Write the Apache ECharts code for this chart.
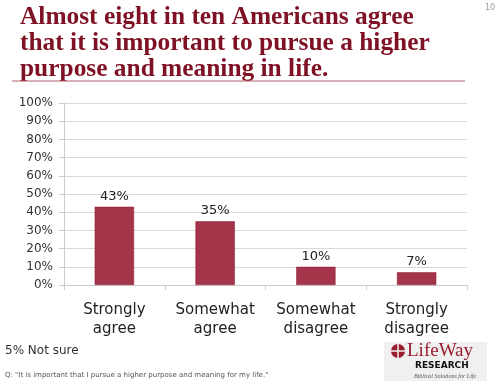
<!DOCTYPE html>
<html><head><meta charset="utf-8">
<script src="https://cdn.jsdelivr.net/npm/echarts@6/dist/echarts.min.js"></script>
<style>html,body{margin:0;padding:0;background:#fff}#c{width:500px;height:385px}</style>
</head><body><div id="c"></div>
<script>
const categories = ['Strongly\nagree', 'Somewhat\nagree', 'Somewhat\ndisagree', 'Strongly\ndisagree'];
const values = [43, 35, 10, 7];
const yTicks = [0, 10, 20, 30, 40, 50, 60, 70, 80, 90, 100];
const titleText = 'Almost eight in ten Americans agree\nthat it is important to pursue a higher\npurpose and meaning in life.';
const noteText = '5% Not sure';
const questionText = 'Q: "It is important that I pursue a higher purpose and meaning for my life."';

const chart = echarts.init(document.getElementById('c'), null, {renderer: 'canvas'});
chart.setOption({
  animation: false,
  backgroundColor: '#fff',
  grid: {left: 64, right: 33, top: 103, bottom: 100, containLabel: false},
  xAxis: {
    type: 'category', data: categories,
    axisLine: {lineStyle: {color: '#cccccc'}},
    axisTick: {show: true, length: 5, lineStyle: {color: '#cccccc'}},
    axisLabel: {interval: 0, color: '#222', fontFamily: 'DejaVu Sans', fontSize: 15, lineHeight: 19, margin: 16}
  },
  yAxis: {
    type: 'value', min: 0, max: 100, interval: 10,
    axisLine: {show: true, lineStyle: {color: '#cccccc'}},
    axisTick: {show: true, length: 5, lineStyle: {color: '#cccccc'}},
    splitLine: {lineStyle: {color: '#d9d9d9'}},
    axisLabel: {color: '#333', fontFamily: 'DejaVu Sans', fontSize: 12, margin: 11,
      formatter: v => yTicks.includes(v) ? v + '%' : ''}
  },
  series: [{
    type: 'bar', data: values, barWidth: '39%',
    itemStyle: {color: '#A3344A', borderColor: '#8f1a30', borderWidth: 0.5},
    label: {show: true, position: 'top', formatter: '{c}%', color: '#222',
      fontFamily: 'DejaVu Sans', fontSize: 13, distance: 4}
  }],
  graphic: [
    {type: 'text', left: 20, top: 4, style: {text: titleText, fill: '#7f1124',
      font: 'bold 25.4px "Liberation Serif"', lineHeight: 26.3}},
    {type: 'line', shape: {x1: 12, y1: 81, x2: 465, y2: 81}, style: {stroke: '#b3606e', lineWidth: 1}},
    {type: 'text', left: 485, top: 4, style: {text: '10', fill: '#999', font: '8px "DejaVu Sans"'}},
    {type: 'text', left: 5, top: 345, style: {text: noteText, fill: '#333', font: '12px "DejaVu Sans"'}},
    {type: 'text', left: 5, top: 372, style: {text: questionText, fill: '#555', font: '7px "DejaVu Sans"'}},
    {type: 'rect', shape: {x: 384, y: 342, width: 103, height: 39}, style: {fill: '#f0f0f0'}},
    {type: 'circle', shape: {cx: 398, cy: 351, r: 7}, style: {fill: '#9b1c2e'}},
    {type: 'line', shape: {x1: 391, y1: 351, x2: 405, y2: 351}, style: {stroke: '#f0f0f0', lineWidth: 1.5}},
    {type: 'line', shape: {x1: 398, y1: 344, x2: 398, y2: 358}, style: {stroke: '#f0f0f0', lineWidth: 1.5}},
    {type: 'text', left: 407, top: 342, style: {text: 'LifeWay', fill: '#9b1c2e', font: '19px "Liberation Serif"'}},
    {type: 'text', left: 415, top: 361, style: {text: 'RESEARCH', fill: '#111', font: 'bold 9px "DejaVu Sans"'}},
    {type: 'text', left: 414, top: 373, style: {text: 'Biblical Solutions for Life', fill: '#555', font: 'italic 6px "Liberation Serif"'}}
  ]
});
</script></body></html>
